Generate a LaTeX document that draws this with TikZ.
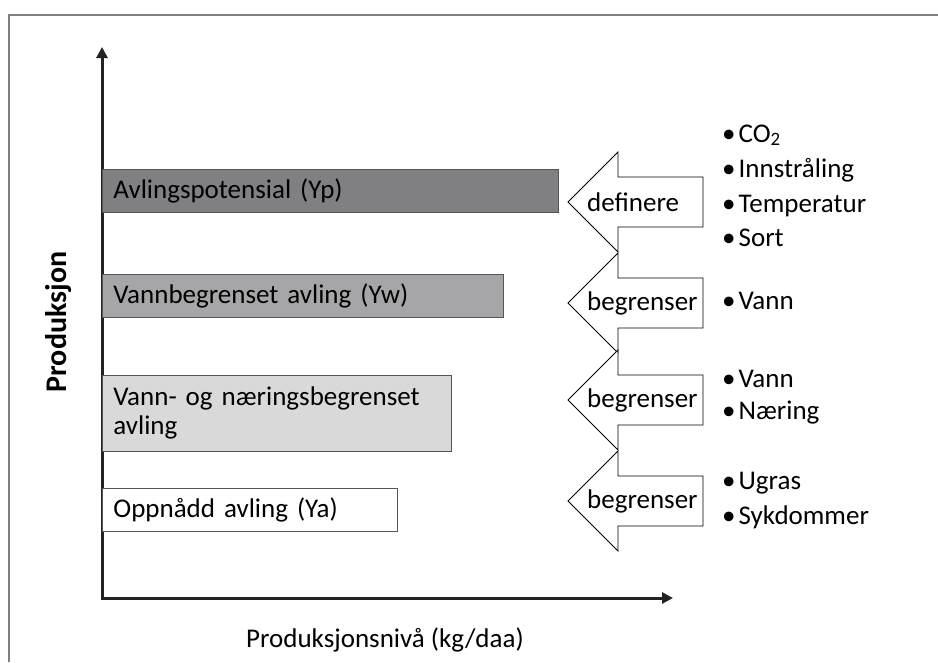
\documentclass[tikz,border=0pt]{standalone}
\usepackage{fontspec}
\setmainfont{Carlito}
\usetikzlibrary{arrows.meta}
\definecolor{barA}{RGB}{128,128,131}
\definecolor{barB}{RGB}{166,166,168}
\definecolor{barC}{RGB}{217,217,218}
\definecolor{barline}{RGB}{85,85,85}
\definecolor{axiscol}{RGB}{35,35,35}
\definecolor{framecol}{RGB}{128,128,128}
\begin{document}
\begin{tikzpicture}[x=1pt,y=-1pt,
  txt/.style={font=\fontsize{27}{30}\selectfont, inner sep=0pt},
  item/.style={txt, anchor=base west},
  bar/.style={draw=barline, line width=0.8pt, anchor=north west, inner xsep=11pt, inner ysep=0pt, align=left, font=\fontsize{27}{29}\selectfont},
  axis/.style={draw=axiscol, line width=3pt, {Triangle[length=11pt,width=11pt]}-{Triangle[length=11pt,width=11pt]}},
  frameline/.style={draw=framecol, line width=1.5pt},
  blockarrow/.style={draw=black, line width=0.8pt, fill=white, line join=miter}]
\useasboundingbox (0,0) rectangle (938,662);
% frame
\draw[frameline] (938,15) -- (9,15) -- (9,662);
% axes
\coordinate (O) at (102,598);
\coordinate (ytop) at (102,47);
\coordinate (xend) at (673,598);
\draw[axis] (ytop) -- (O) -- (xend);
% bars
\node[bar, fill=barA, minimum height=43pt, text width=434pt] (yp) at (102,169) {Avlingspotensial (Yp)};
\node[bar, fill=barB, minimum height=43pt, text width=379pt] (yw) at (102,274) {Vannbegrenset avling (Yw)};
\node[bar, fill=barC, minimum height=76pt, text width=327pt] (yn) at (102,375) {Vann- og næringsbegrenset\\avling};
\node[bar, fill=white, minimum height=43pt, text width=273pt] (ya) at (102,488) {Oppnådd avling (Ya)};
% block arrows
\foreach \cy/\word/\n in {202/definere/a1, 303/begrenser/a2, 400/begrenser/a3, 501/begrenser/a4}{
  \draw[blockarrow] (568,\cy) -- (618,{\cy-50}) -- (618,{\cy-25}) -- (703,{\cy-25}) -- (703,{\cy+25}) -- (618,{\cy+25}) -- (618,{\cy+50}) -- cycle;
  \node[txt, anchor=west] (\n) at (587,\cy) {\word};
}
% bullet lists
\node[item] (l1a) at (722,142) {•\hspace{3pt}CO\textsubscript{2}};
\node[item] (l1b) at (722,177) {•\hspace{3pt}Innstråling};
\node[item] (l1c) at (722,212) {•\hspace{3pt}Temperatur};
\node[item] (l1d) at (722,246) {•\hspace{3pt}Sort};
\node[item] (l2a) at (722,309) {•\hspace{3pt}Vann};
\node[item] (l3a) at (722,387) {•\hspace{3pt}Vann};
\node[item] (l3b) at (722,419) {•\hspace{3pt}Næring};
\node[item] (l4a) at (722,489) {•\hspace{3pt}Ugras};
\node[item] (l4b) at (722,524) {•\hspace{3pt}Sykdommer};
% axis labels
\node[txt, font=\fontsize{30}{33}\selectfont\bfseries, rotate=90] (ylab) at (59,322) {Produksjon};
\node[txt] (xlab) at (385,640) {Produksjonsnivå (kg/daa)};
\end{tikzpicture}
\end{document}
